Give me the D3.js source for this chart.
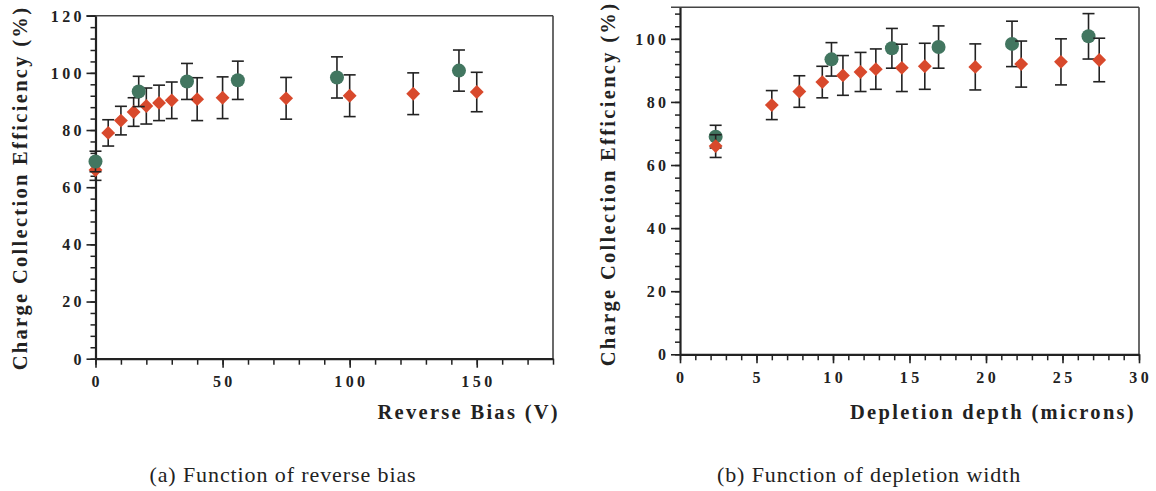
<!DOCTYPE html>
<html><head><meta charset="utf-8">
<script src="https://cdn.jsdelivr.net/npm/d3@7"></script>
<style>
html,body{margin:0;padding:0;background:#fff;}
svg{display:block;}
</style></head><body>
<svg id="c" width="1156" height="491"></svg>
<script>
// ---- data ----
const biasRed = [0, 5, 10, 15, 20, 25, 30, 40, 50, 75, 100, 125, 150];
const depthRed = [2.33, 6.0, 7.8, 9.3, 10.65, 11.8, 12.8, 14.5, 16.0, 19.3, 22.3, 24.9, 27.4];
const cceRed = [66.0, 79.0, 83.3, 86.3, 88.4, 89.5, 90.4, 90.8, 91.3, 91.1, 92.0, 92.7, 93.3];
const errRed = [3.6, 4.6, 5.0, 5.0, 6.3, 6.2, 6.4, 7.5, 7.3, 7.3, 7.3, 7.3, 6.9];

const biasGreen = [0, 17, 36, 56, 95, 143];
const depthGreen = [2.33, 9.9, 13.85, 16.9, 21.7, 26.7];
const cceGreen = [69.0, 93.5, 97.0, 97.4, 98.4, 100.8];
const errGreen = [3.6, 5.3, 6.3, 6.7, 7.2, 7.2];

const leftXMajor = [0, 50, 100, 150];
const leftXMinor = d3.range(0, 181, 10);
const leftYMajor = [0, 20, 40, 60, 80, 100, 120];
const leftYMinor = d3.range(0, 121, 4);
const rightXMajor = [0, 5, 10, 15, 20, 25, 30];
const rightXMinor = d3.range(0, 31, 1);
const rightYMajor = [0, 20, 40, 60, 80, 100];
const rightYMinor = d3.range(0, 109, 4);

const RED = "#d8492c", GREEN = "#427660", INK = "#222";
const SERIF = '"Liberation Serif", "Times New Roman", serif';

const svg = d3.select("#c");

function tickStyle(sel){
  sel.style("font-family", SERIF).style("font-weight", "bold").style("font-size", "16px")
     .style("letter-spacing", "3.4px").attr("fill", INK);
}
function titleStyle(sel){
  sel.style("font-family", SERIF).style("font-weight", "bold").style("font-size", "20.5px")
     .style("letter-spacing", "2.3px").attr("fill", INK);
}

function panel(cfg){
  const g = svg.append("g");
  const x = d3.scaleLinear().domain(cfg.xDomain).range([cfg.left, cfg.right]);
  const y = d3.scaleLinear().domain(cfg.yDomain).range([cfg.bottom, cfg.top]);

  // frame top/right
  g.append("line").attr("x1", cfg.left - 9).attr("x2", cfg.right).attr("y1", cfg.top).attr("y2", cfg.top)
    .attr("stroke", "#444").attr("stroke-width", 1.6);
  g.append("line").attr("x1", cfg.right).attr("x2", cfg.right).attr("y1", cfg.top).attr("y2", cfg.bottom)
    .attr("stroke", "#444").attr("stroke-width", 1.6);

  // minor ticks
  g.append("g").attr("transform", `translate(0,${cfg.bottom})`)
    .call(d3.axisBottom(x).tickValues(cfg.xMinor).tickSize(6).tickFormat(""))
    .call(a => a.select(".domain").remove())
    .call(a => a.selectAll("line").attr("stroke", INK).attr("stroke-width", 1.5));
  g.append("g").attr("transform", `translate(${cfg.left},0)`)
    .call(d3.axisLeft(y).tickValues(cfg.yMinor).tickSize(5).tickFormat(""))
    .call(a => a.select(".domain").remove())
    .call(a => a.selectAll("line").attr("stroke", INK).attr("stroke-width", 1.5));

  // major axes
  g.append("g").attr("transform", `translate(0,${cfg.bottom})`)
    .call(d3.axisBottom(x).tickValues(cfg.xMajor).tickSize(9).tickSizeOuter(0).tickPadding(8).tickFormat(d3.format("d")))
    .call(a => a.select(".domain").attr("stroke", INK).attr("stroke-width", 2.2))
    .call(a => a.selectAll("line").attr("stroke", INK).attr("stroke-width", 1.6))
    .call(a => a.selectAll("text").attr("dx", "1.2px").call(tickStyle));
  g.append("g").attr("transform", `translate(${cfg.left},0)`)
    .call(d3.axisLeft(y).tickValues(cfg.yMajor).tickSize(9).tickSizeOuter(0).tickPadding(1.5).tickFormat(d3.format("d")))
    .call(a => a.select(".domain").attr("stroke", INK).attr("stroke-width", 2.2))
    .call(a => a.selectAll("line").attr("stroke", INK).attr("stroke-width", 1.6))
    .call(a => a.selectAll("text").attr("dy", "0.34em").call(tickStyle));

  // series
  function series(xs, ys, es, color, shape){
    const s = g.append("g");
    const data = xs.map((v, i) => ({x: v, y: ys[i], e: es[i]}));
    const eb = s.selectAll("g.eb").data(data).join("g").attr("class", "eb")
      .attr("stroke", INK).attr("stroke-width", 1.6);
    eb.append("line").attr("x1", d => x(d.x)).attr("x2", d => x(d.x))
      .attr("y1", d => y(d.y - d.e)).attr("y2", d => y(d.y + d.e));
    eb.append("line").attr("x1", d => x(d.x) - 6).attr("x2", d => x(d.x) + 6)
      .attr("y1", d => y(d.y + d.e)).attr("y2", d => y(d.y + d.e));
    eb.append("line").attr("x1", d => x(d.x) - 6).attr("x2", d => x(d.x) + 6)
      .attr("y1", d => y(d.y - d.e)).attr("y2", d => y(d.y - d.e));
    if (shape === "circle") {
      s.selectAll("circle").data(data).join("circle")
        .attr("cx", d => x(d.x)).attr("cy", d => y(d.y)).attr("r", 7).attr("fill", color);
    } else {
      const sym = d3.symbol().type(d3.symbolSquare).size(96);
      s.selectAll("path.m").data(data).join("path").attr("class", "m")
        .attr("d", sym).attr("fill", color)
        .attr("transform", d => `translate(${x(d.x)},${y(d.y)}) rotate(45)`);
    }
  }
  if (cfg.greenOnTop) {
    series(cfg.rx, cceRed, errRed, RED, "diamond");
    series(cfg.gx, cceGreen, errGreen, GREEN, "circle");
  } else {
    series(cfg.gx, cceGreen, errGreen, GREEN, "circle");
    series(cfg.rx, cceRed, errRed, RED, "diamond");
  }

  // titles
  g.append("text").attr("text-anchor", "end")
    .attr("x", cfg.xTitleEnd).attr("y", cfg.xTitleY).text(cfg.xTitle).call(titleStyle);
  g.append("text").attr("text-anchor", "middle")
    .attr("transform", `translate(${cfg.yTitleX},${cfg.yTitleCY}) rotate(-90)`)
    .text("Charge Collection Efficiency (%)").call(titleStyle);
  g.append("text").attr("text-anchor", "middle")
    .attr("x", cfg.capX).attr("y", 482).text(cfg.caption)
    .style("font-family", SERIF).style("font-size", "22px").style("letter-spacing", "0.9px").attr("fill", INK);
}

panel({
  xDomain: [0, 180], yDomain: [0, 120],
  left: 95.5, right: 553, top: 15.7, bottom: 358.7,
  xMajor: leftXMajor, xMinor: leftXMinor, yMajor: leftYMajor, yMinor: leftYMinor,
  gx: biasGreen, rx: biasRed, greenOnTop: true,
  xTitle: "Reverse Bias (V)", xTitleY: 419, xTitleEnd: 560,
  yTitleX: 27, yTitleCY: 188,
  caption: "(a) Function of reverse bias", capX: 283
});
panel({
  xDomain: [0, 30], yDomain: [0, 110],
  left: 680, right: 1139, top: 7.3, bottom: 354.3,
  xMajor: rightXMajor, xMinor: rightXMinor, yMajor: rightYMajor, yMinor: rightYMinor,
  gx: depthGreen, rx: depthRed, greenOnTop: false,
  xTitle: "Depletion depth (microns)", xTitleY: 419, xTitleEnd: 1136,
  yTitleX: 615, yTitleCY: 184,
  caption: "(b) Function of depletion width", capX: 869
});
</script>
</body></html>
